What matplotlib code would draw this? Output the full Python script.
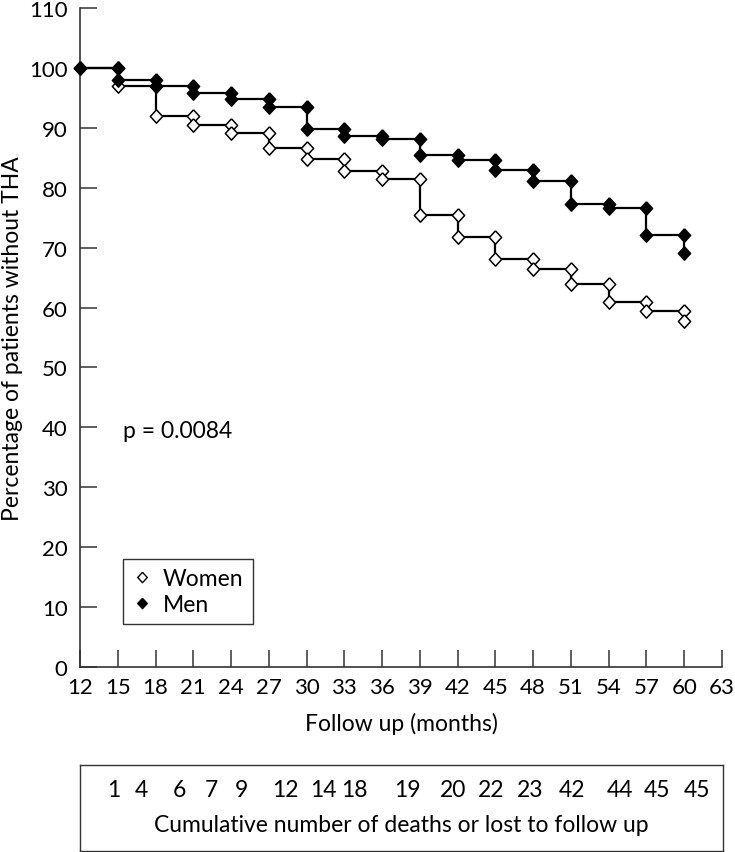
import numpy as np
import matplotlib
matplotlib.use("Agg")
import matplotlib.pyplot as plt
from matplotlib.lines import Line2D

plt.rcParams['font.family'] = ['Lato', 'DejaVu Sans']

# step points (months) and survival level after each step (%)
months = [12, 15, 18, 21, 24, 27, 30, 33, 36, 39, 42, 45, 48, 51, 54, 57, 60]
women = [100, 97.0, 92.0, 90.5, 89.2, 86.7, 84.8, 82.8, 81.5, 75.5, 71.7,
         68.1, 66.5, 64.0, 60.9, 59.4, 57.8]
men = [100, 98.0, 97.0, 95.8, 94.8, 93.4, 89.8, 88.6, 88.2, 85.5, 84.7,
       83.0, 81.2, 77.3, 76.6, 72.1, 69.1]

xticks = list(range(12, 64, 3))
yticks = list(range(0, 111, 10))

# cumulative deaths / lost to follow up, and where they sit along the x axis
lost_counts = [1, 4, 6, 7, 9, 12, 14, 18, 19, 20, 22, 23, 42, 44, 45, 45]
lost_xpos = [14.7, 16.9, 19.9, 22.4, 24.8, 28.3, 31.3, 33.8, 38.0, 41.6,
             44.6, 47.7, 51.0, 54.8, 57.8, 60.9]

FS = 16.5
TICK_FS = 16
SPINE = '#333333'
diamond = [(0, 1), (0.92, 0), (0, -1), (-0.92, 0), (0, 1)]


def step_path(xs, levels):
    x = np.repeat(xs, 2)[1:]
    y = np.repeat(levels, 2)[:-1]
    return x, y


fig = plt.figure(figsize=(7.35, 8.53), dpi=100)
ax = fig.add_axes([80 / 735, 185 / 853, 642 / 735, 659 / 853])

wx, wy = step_path(months, women)
mx, my = step_path(months, men)
ax.plot(wx, wy, color='black', lw=1.6, marker=diamond, markersize=9.6,
        markerfacecolor='white', markeredgecolor='black', markeredgewidth=1.1,
        zorder=2, clip_on=False)
ax.plot(mx, my, color='black', lw=1.6, marker=diamond, markersize=9.6,
        markerfacecolor='black', markeredgecolor='black', markeredgewidth=1.1,
        zorder=3, clip_on=False)

ax.set_xlim(12, 63)
ax.set_ylim(0, 110)
ax.set_xticks(xticks)
ax.set_yticks(yticks)
for s in ['top', 'right']:
    ax.spines[s].set_visible(False)
for s in ['left', 'bottom']:
    ax.spines[s].set_color(SPINE)
    ax.spines[s].set_linewidth(1.2)
ax.tick_params(direction='in', length=12, width=1.1, color=SPINE,
               labelsize=TICK_FS, pad=7)
ax.tick_params(axis='y', pad=9)

ax.set_xlabel('Follow up (months)', fontsize=FS)
ax.xaxis.set_label_coords(0.5, -0.068)
ax.set_ylabel('Percentage of patients without THA', fontsize=FS)
ax.yaxis.set_label_coords(-0.089, 0.5)

ax.text(15.4, 39.5, 'p = 0.0084', fontsize=FS, va='center', ha='left')

handles = [
    Line2D([], [], ls='none', marker=diamond, markersize=7.5,
           markerfacecolor='white', markeredgecolor='black', markeredgewidth=1),
    Line2D([], [], ls='none', marker=diamond, markersize=7.5,
           markerfacecolor='black', markeredgecolor='black', markeredgewidth=1),
]
leg = ax.legend(handles, ['Women', 'Men'], loc='lower left',
                bbox_to_anchor=(43 / 642, 43 / 659), borderaxespad=0,
                fontsize=FS, frameon=True, fancybox=False, framealpha=1,
                edgecolor=SPINE, handlelength=0.9, handletextpad=0.45,
                borderpad=0.4, labelspacing=0.2)
leg.get_frame().set_linewidth(1.0)

# table box under the chart
bx = fig.add_axes([80 / 735, 1 / 853, 643 / 735, 86 / 853])
bx.set_xlim(12, 63)
bx.set_ylim(0, 1)
bx.set_xticks([])
bx.set_yticks([])
for s in bx.spines.values():
    s.set_color(SPINE)
    s.set_linewidth(1.0)
for xp, n in zip(lost_xpos, lost_counts):
    bx.text(xp, 0.64, str(n), fontsize=FS, ha='center', va='baseline')
bx.text(37.5, 0.235, 'Cumulative number of deaths or lost to follow up',
        fontsize=FS, ha='center', va='baseline')

fig.savefig('out.png', dpi=100)
